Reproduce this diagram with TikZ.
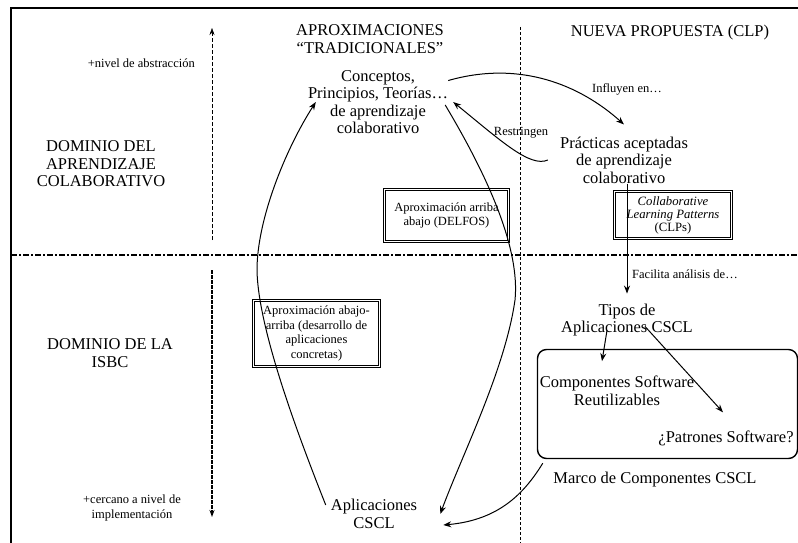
\documentclass[tikz,border=0pt]{standalone}
\usepackage{fontspec}
\setmainfont{Liberation Serif}
\usetikzlibrary{arrows.meta}

\begin{document}
\begin{tikzpicture}[x=1pt,y=-1pt,
    >={Stealth[length=8pt,width=6pt]},
    big/.style={font=\fontsize{16.5}{17.5}\selectfont,align=center,inner sep=0pt},
    small/.style={font=\fontsize{12.5}{14.5}\selectfont,align=center,inner sep=0pt},
    twobox/.style={draw,double,line width=0.9pt,double distance=1.2pt},
    flow/.style={->,line width=1pt}]
      \useasboundingbox (0,0) rectangle (798,543);
      \draw[line width=2.5pt] (11,543) -- (11,8) -- (798,8);
      \draw[line width=1.5pt,dash pattern=on 6pt off 2pt on 2pt off 2pt] (11,255) -- (798,255);
      \draw[line width=0.5pt,dash pattern=on 3pt off 2pt] (520,27) -- (520,543);
      % axes
      \coordinate (upbot) at (212,240);
      \coordinate (uptop) at (212,28);
      \coordinate (dntop) at (212,270);
      \coordinate (dnbot) at (212,517);
      \draw[->,>={Stealth[length=7pt,width=5pt]},line width=0.5pt,dash pattern=on 4pt off 2pt] (upbot) -- (uptop);
      \draw[->,>={Stealth[length=7pt,width=5pt]},line width=1.5pt,dash pattern=on 4pt off 1pt] (dntop) -- (dnbot);
      \node[small,anchor=east] (absn) at (195,63) {+nivel de abstracci\'on};
      \node[small] (impl) at (132,508) {+cercano a nivel de\\implementaci\'on};
      \node[big] (dom1) at (101,164) {DOMINIO DEL\\APRENDIZAJE\\COLABORATIVO};
      \node[big] (dom2) at (110,353) {DOMINIO DE LA\\ISBC};
      % left column
      \node[big] (aprox) at (370,39) {APROXIMACIONES\\“TRADICIONALES”};
      \node[big] (conc) at (378,102) {Conceptos,\\Principios, Teorías…\\de aprendizaje\\colaborativo};
      \node[big] (aplic) at (374,514) {Aplicaciones\\CSCL};
      \node[twobox,small,minimum width=124pt,minimum height=52pt] (delfos) at (446.5,215.5) {Aproximación arriba\\abajo (DELFOS)};
      \node[twobox,small,minimum width=126pt,minimum height=66pt] (abajo) at (316.5,333.5) {Aproximación abajo-\\arriba (desarrollo de\\aplicaciones\\concretas)};
      % right column
      \node[big] (nueva) at (670,33) {NUEVA PROPUESTA (CLP)};
      \node[big] (pract) at (624,160) {Prácticas aceptadas\\de aprendizaje\\colaborativo};
      \node[twobox,small,font=\fontsize{12.7}{13}\selectfont,minimum width=117pt,minimum height=47pt] (clp) at (673,215) {\textit{Collaborative}\\\textit{Learning Patterns}\\(CLPs)};
      \node[small] (infl) at (627,89) {Influyen en…};
      \node[small] (restr) at (521,133) {Restringen};
      \node[small,anchor=west] (facil) at (632,274) {Facilita análisis de…};
      \node[big] (tipos) at (627,320) {Tipos de\\Aplicaciones CSCL};
      \node[draw,line width=1.4pt,rounded corners=9pt,minimum width=260pt,minimum height=109pt] (marcobox) at (667.5,404) {};
      \node[big] (comp) at (617,391) {Componentes Software\\Reutilizables};
      \node[big] (patr) at (726,438) {¿Patrones Software?};
      \node[big] (marco) at (655,480) {Marco de Componentes CSCL};
      % connectors
      \draw[flow] ([xshift=-5pt,yshift=9pt]aplic.west) .. controls (300,440) and (258,330) .. (257,270)
        .. controls (257,220) and (285,150) .. ([xshift=8pt]conc.west);
      \draw[flow] ([xshift=-3pt,yshift=-3pt]conc.east) .. controls (490,180) and (520,250) .. (515,300)
        .. controls (505,370) and (462,455) .. ([xshift=23pt]aplic.east);
      \draw[flow] ([xshift=6pt,yshift=-4pt]marcobox.south west) .. controls (525,492) and (500,520) .. ([xshift=26pt,yshift=-11pt]aplic.east);
      \draw[flow] (conc.17) .. controls (520,60) and (580,85) .. ([yshift=12pt]pract.north);
      \draw[flow] ([xshift=-12pt]pract.west) .. controls (530,168) and (500,140) .. ([xshift=5pt]conc.east);
      \draw[flow] (pract.south -| tipos.north) -- ([yshift=10pt]tipos.north);
      \draw[flow] ([xshift=-20pt,yshift=6pt]tipos.south) -- ([xshift=-15pt,yshift=15pt]comp.north);
      \draw[flow] ([xshift=18pt,yshift=10pt]tipos.south) -- ([xshift=-3pt,yshift=18pt]patr.north);
    \end{tikzpicture}
\end{document}
